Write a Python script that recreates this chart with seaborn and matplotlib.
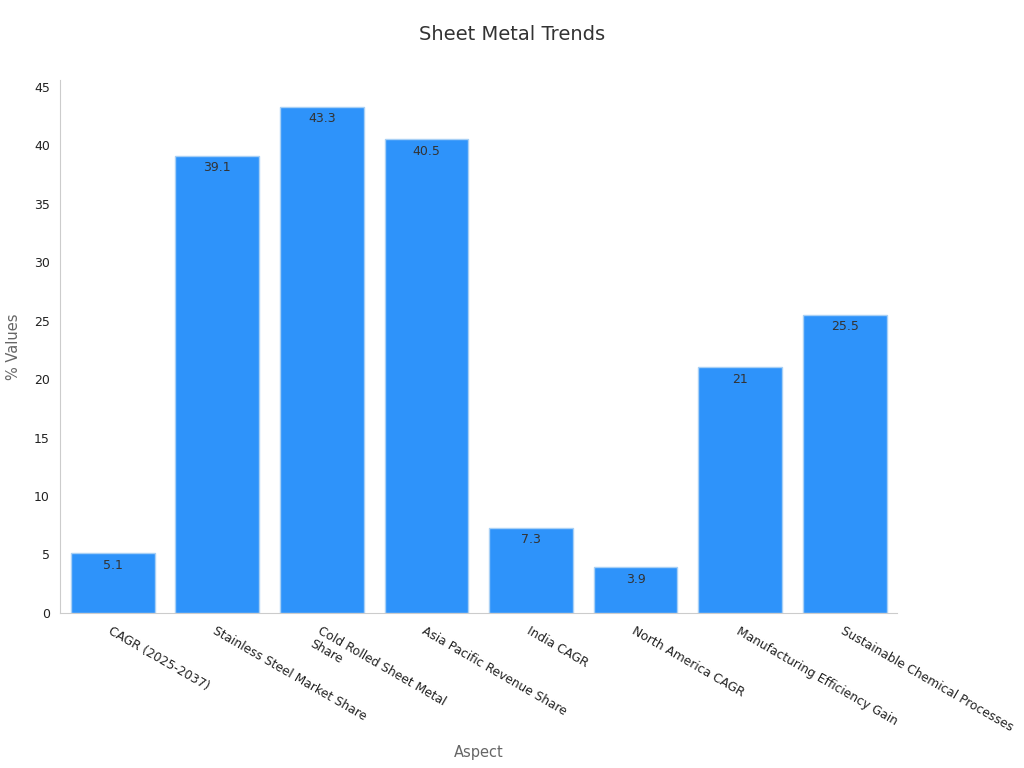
import pandas as pd
import seaborn as sns
import matplotlib.pyplot as plt

# Данные
aspects = ['CAGR (2025-2037)', 'Stainless Steel Market Share', 'Cold Rolled Sheet Metal\nShare',
           'Asia Pacific Revenue Share', 'India CAGR', 'North America CAGR',
           'Manufacturing Efficiency Gain', 'Sustainable Chemical Processes']
values = [5.1, 39.1, 43.3, 40.5, 7.3, 3.9, 21, 25.5]
labels = ['5.1', '39.1', '43.3', '40.5', '7.3', '3.9', '21', '25.5']

df = pd.DataFrame({'Aspect': aspects, 'Value': values})

sns.set_style('white')
plt.rcParams['font.family'] = ['DejaVu Sans']

fig = plt.figure(figsize=(10.24, 7.68), dpi=100)
ax = fig.add_axes([0.059, 0.202, 0.817, 0.694])

sns.barplot(x='Aspect', y='Value', data=df, color='#2e93fa', saturation=1, width=0.8,
            edgecolor='#a8d0f5', linewidth=1, ax=ax)

# подписи значений внутри столбцов
for bar, lab in zip(ax.patches, labels):
    ax.text(bar.get_x() + bar.get_width() / 2, bar.get_height() - 0.45, lab,
            ha='center', va='top', fontsize=9, color='#333333')

ax.set_ylim(0, 45.6)
ax.set_xlim(-0.5, 7.5)
ax.set_yticks(range(0, 46, 5))
ax.tick_params(axis='y', labelsize=9, colors='#222222', length=4, color='#aaaaaa')
ax.tick_params(axis='x', labelsize=8.8, colors='#222222', length=5, color='#aaaaaa')
for t in ax.get_xticklabels():
    t.set_rotation(-30)
    t.set_ha('left')
    t.set_rotation_mode('anchor')

sns.despine(ax=ax)
for s in ['left', 'bottom']:
    ax.spines[s].set_color('#cccccc')

fig.suptitle('Sheet Metal Trends', y=0.968, fontsize=14, color='#333333')
ax.set_xlabel('Aspect', fontsize=10.5, color='#666666')
ax.set_ylabel('% Values', fontsize=10.5, color='#666666')
ax.xaxis.set_label_coords(0.5, -0.248)
ax.yaxis.set_label_coords(-0.047, 0.5)

fig.savefig('out.png', dpi=100)
